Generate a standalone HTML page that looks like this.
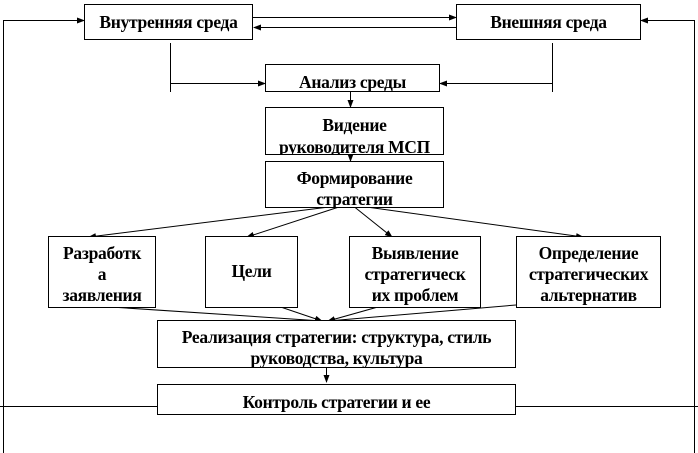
<!DOCTYPE html>
<html><head><meta charset="utf-8"><style>
body{margin:0;width:698px;height:453px;background:#fff;overflow:hidden;position:relative;font-family:"Liberation Serif",serif;font-weight:bold;font-size:17.5px;letter-spacing:-0.3px;}
.b{position:absolute;border:1px solid #000;box-sizing:border-box;background:#fff;text-align:center;line-height:21px;overflow:hidden;white-space:nowrap;}
svg{position:absolute;left:0;top:0;}
</style></head><body>
<svg width="698" height="453">
<defs><marker id="a" markerWidth="8" markerHeight="8" refX="7" refY="4" orient="auto" markerUnits="userSpaceOnUse"><path d="M0,1 L8,4 L0,7z" fill="#000"/></marker></defs>
<g stroke="#000" stroke-width="1" fill="none">
<path d="M3.5,453 V20.5 H84" marker-end="url(#a)"/>
<path d="M694.5,453 V20.5 H641" marker-end="url(#a)"/>
<path d="M253,17.5 H456" marker-end="url(#a)"/>
<path d="M456,27.5 H254" marker-end="url(#a)"/>
<path d="M170.5,43 V92"/>
<path d="M552.5,43 V92"/>
<path d="M170,83.5 H265" marker-end="url(#a)"/>
<path d="M552,83.5 H440" marker-end="url(#a)"/>
<path d="M350.5,92 V107" marker-end="url(#a)"/>
<path d="M350.5,150 V161" marker-end="url(#a)"/>
<path d="M345,205 L89,237" marker-end="url(#a)"/>
<path d="M345,205 L247,237" marker-end="url(#a)"/>
<path d="M352,205 L392,237" marker-end="url(#a)"/>
<path d="M352,205 L583,237" marker-end="url(#a)"/>
<path d="M111,307 L322,321" marker-end="url(#a)"/>
<path d="M254,298 L322,321" marker-end="url(#a)"/>
<path d="M392,303 L328,321" marker-end="url(#a)"/>
<path d="M516,305 L328,321" marker-end="url(#a)"/>
<path d="M326.5,368 V382" marker-end="url(#a)"/>
<path d="M0,406.5 H157 M516,406.5 H698"/>
</g></svg>
<div class="b" style="left:84px;top:4px;width:169px;height:36px;padding-top:7px">Внутренняя среда</div>
<div class="b" style="left:456px;top:4px;width:185px;height:36px;padding-top:7px">Внешняя среда</div>
<div class="b" style="left:265px;top:64px;width:175px;height:28px;padding-top:7px">Анализ среды</div>
<div class="b" style="left:265px;top:107px;width:179px;height:48px;padding-top:6px;line-height:22px">Видение<br>руководителя МСП</div>
<div class="b" style="left:265px;top:161px;width:179px;height:47px;padding-top:6px">Формирование<br>стратегии</div>
<div class="b" style="left:48px;top:236px;width:108px;height:72px;padding-top:6px">Разработк<br>а<br>заявления</div>
<div class="b" style="left:205px;top:236px;width:93px;height:72px;padding-top:24px">Цели</div>
<div class="b" style="left:349px;top:236px;width:132px;height:72px;padding-top:6px">Выявление<br>стратегическ<br>их проблем</div>
<div class="b" style="left:516px;top:236px;width:145px;height:72px;padding-top:6px">Определение<br>стратегических<br>альтернатив</div>
<div class="b" style="left:157px;top:320px;width:359px;height:48px;padding-top:6px">Реализация стратегии: структура, стиль<br>руководства, культура</div>
<div class="b" style="left:157px;top:384px;width:359px;height:31px;padding-top:7px">Контроль стратегии и ее</div>
</body></html>
